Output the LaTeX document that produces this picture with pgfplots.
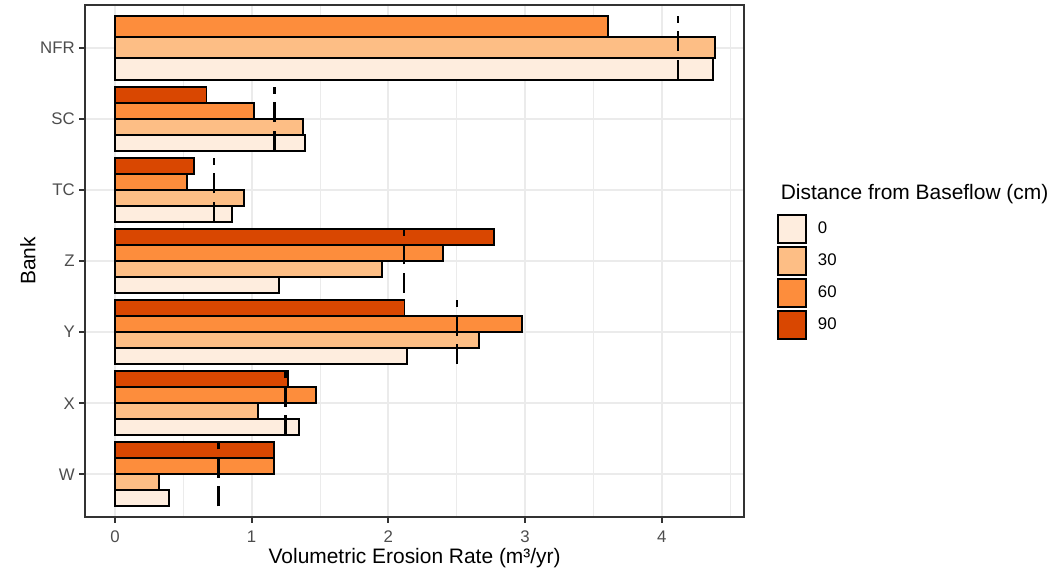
\documentclass[border=0pt]{standalone}
\usepackage{pgfplots}
\pgfplotsset{compat=1.18}
\usepackage{fontspec}
\setmainfont{Liberation Sans}
\definecolor{c0}{HTML}{FEEDDE}
\definecolor{c30}{HTML}{FDBE85}
\definecolor{c60}{HTML}{FD8D3C}
\definecolor{c90}{HTML}{D94701}
\definecolor{grid92}{HTML}{EBEBEB}
\definecolor{grey20}{HTML}{333333}
\definecolor{grey30}{HTML}{4D4D4D}
\begin{document}
\begin{tikzpicture}
\begin{axis}[
  at={(0,0)}, anchor=south west,
  scale only axis, width=494.5pt, height=384pt,
  xmin=-0.219, xmax=4.604, ymin=0.4, ymax=7.6,
  axis line style={grey20, line width=1.45pt},
  xtick={0,1,2,3,4}, xticklabels={0,1,2,3,4},
  minor xtick={0.5,1.5,2.5,3.5,4.5},
  ytick={1,2,3,4,5,6,7}, yticklabels={W,X,Y,Z,TC,SC,NFR},
  tick align=outside, tick pos=left,
  major tick length=4.3pt, minor tick length=0pt,
  every tick/.style={grey20, line width=1.45pt},
  xmajorgrids, xminorgrids, ymajorgrids,
  major grid style={grid92, line width=1.45pt},
  minor grid style={grid92, line width=0.72pt},
  ticklabel style={font=\fontsize{12.6}{15}\selectfont, text=grey30},
  xticklabel style={anchor=north, inner sep=0pt, yshift=-6.2pt},
  yticklabel style={anchor=east, inner sep=0pt, xshift=-3.2pt},
  xlabel={Volumetric Erosion Rate (m³/yr)},
  ylabel={Bank},
  label style={font=\fontsize{15.7}{18}\selectfont, text=black},
  xlabel style={at={(axis description cs:0.5,-0.0801)}, anchor=center},
  ylabel style={at={(axis description cs:-0.0865,0.5)}, anchor=center},
  xbar, bar shift=0pt,
  legend image code/.code={\draw[#1, line width=1.45pt] (0pt,-10.5pt) rectangle (21pt,10.5pt);},
  legend cell align=left,
  legend style={at={(axis description cs:1.0496,0.5918)}, anchor=north west,
    draw=none, fill=none, inner sep=0pt, outer sep=0pt,
    row sep=1.55pt, column sep=8.25pt,
    font=\fontsize{12.6}{15}\selectfont,
    nodes={inner sep=0pt}},
]
% 0 cm
\addplot[fill=c0, draw=black, line width=1.45pt, bar width=0.225] coordinates {
  (0.394,0.6625) (1.345,1.6625) (2.136,2.6625) (1.203,3.6625) (0.855,4.6625) (1.388,5.6625)};
\addlegendentry{0}
% 30 cm
\addplot[fill=c30, draw=black, line width=1.45pt, bar width=0.225] coordinates {
  (0.320,0.8875) (1.048,1.8875) (2.661,2.8875) (1.952,3.8875) (0.945,4.8875) (1.376,5.8875)};
\addlegendentry{30}
% 60 cm
\addplot[fill=c60, draw=black, line width=1.45pt, bar width=0.225] coordinates {
  (1.164,1.1125) (1.470,2.1125) (2.979,3.1125) (2.403,4.1125) (0.524,5.1125) (1.018,6.1125)};
\addlegendentry{60}
% 90 cm
\addplot[fill=c90, draw=black, line width=1.45pt, bar width=0.225] coordinates {
  (1.164,1.3375) (1.264,2.3375) (2.118,3.3375) (2.773,4.3375) (0.576,5.3375) (0.670,6.3375)};
\addlegendentry{90}
% NFR (three bars)
\addplot[forget plot, fill=c0, draw=black, line width=1.45pt, bar width=0.3] coordinates {(4.377,6.7)};
\addplot[forget plot, fill=c30, draw=black, line width=1.45pt, bar width=0.3] coordinates {(4.386,7.0)};
\addplot[forget plot, fill=c60, draw=black, line width=1.45pt, bar width=0.3] coordinates {(3.610,7.3)};
% means
\addplot[forget plot, xbar=false, sharp plot, black, line width=1.7pt, dash pattern=on 15pt off 6.4pt] coordinates {(0.758,0.55) (0.758,1.45)};
\addplot[forget plot, xbar=false, sharp plot, black, line width=1.7pt, dash pattern=on 15pt off 6.4pt] coordinates {(1.248,1.55) (1.248,2.45)};
\addplot[forget plot, xbar=false, sharp plot, black, line width=1.7pt, dash pattern=on 15pt off 6.4pt] coordinates {(2.500,2.55) (2.500,3.45)};
\addplot[forget plot, xbar=false, sharp plot, black, line width=1.7pt, dash pattern=on 15pt off 6.4pt] coordinates {(2.112,3.55) (2.112,4.45)};
\addplot[forget plot, xbar=false, sharp plot, black, line width=1.7pt, dash pattern=on 15pt off 6.4pt] coordinates {(0.727,4.55) (0.727,5.45)};
\addplot[forget plot, xbar=false, sharp plot, black, line width=1.7pt, dash pattern=on 15pt off 6.4pt] coordinates {(1.167,5.55) (1.167,6.45)};
\addplot[forget plot, xbar=false, sharp plot, black, line width=1.7pt, dash pattern=on 15pt off 6.4pt] coordinates {(4.120,6.55) (4.120,7.45)};
\end{axis}
\node[anchor=base west, font=\fontsize{15.7}{18}\selectfont] at (518.3pt,237.75pt) {Distance from Baseflow (cm)};
\pgfresetboundingbox
\path (-63.75pt,-40.5pt) rectangle (723.75pt,387.75pt);
\end{tikzpicture}
\end{document}
